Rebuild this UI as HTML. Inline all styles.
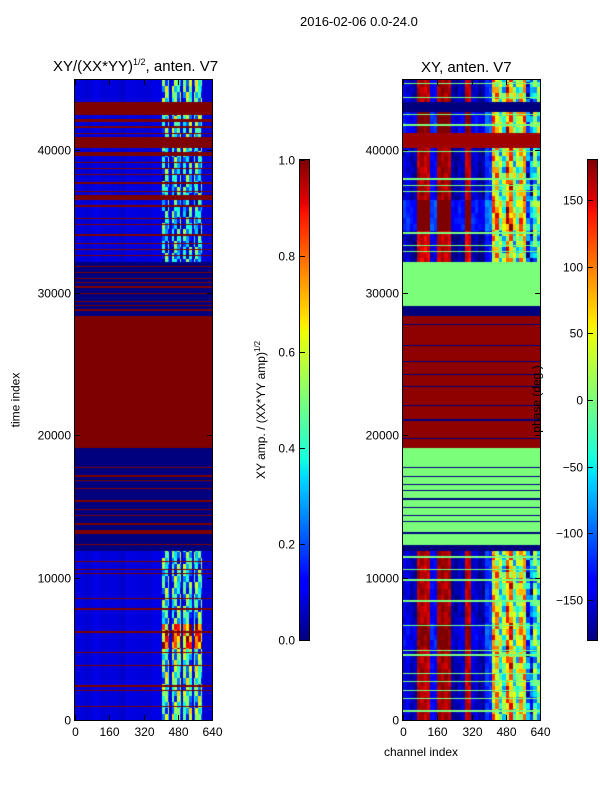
<!DOCTYPE html>
<html><head><meta charset="utf-8">
<style>
body{margin:0;background:#fff;}
#root{position:relative;width:600px;height:800px;background:#fff;font-family:"Liberation Sans",sans-serif;color:#000;overflow:hidden;}
canvas{position:absolute;}
.t{position:absolute;font-size:12px;white-space:nowrap;}
.frame{position:absolute;border:1px solid #000;box-sizing:border-box;}
svg{position:absolute;left:0;top:0;}
</style></head>
<body>
<div id="root">
<div class="t" style="left:300px;top:14px;font-size:13px;">2016-02-06 0.0-24.0</div>
<div class="t" style="left:53px;top:57px;font-size:15px;">XY/(XX*YY)<sup style="font-size:9px">1/2</sup>, anten. V7</div>
<div class="t" style="left:421px;top:59px;font-size:15px;">XY, anten. V7</div>
<canvas id="cL" width="137" height="640" style="left:75px;top:80px"></canvas>
<canvas id="cR" width="137" height="640" style="left:403px;top:80px"></canvas>
<canvas id="cb1" width="9" height="480" style="left:300px;top:160px"></canvas>
<canvas id="cb2" width="9" height="480" style="left:588px;top:160px"></canvas>
<div class="frame" style="left:74px;top:79px;width:139px;height:642px"></div>
<div class="frame" style="left:402px;top:79px;width:139px;height:642px"></div>
<div class="frame" style="left:299px;top:159px;width:11px;height:482px"></div>
<div class="frame" style="left:587px;top:159px;width:11px;height:482px"></div>
<svg id="ov" width="600" height="800"></svg>
<div class="t" style="left:-12px;top:393px;transform:rotate(-90deg);font-size:12px;">time index</div>
<div class="t" style="left:384px;top:745px;">channel index</div>
<div class="t" style="left:180px;top:392px;transform:rotate(-90deg);transform-origin:80px 7px;width:160px;">XY amp. / (XX*YY amp)<sup style="font-size:8px">1/2</sup></div>
<div class="t" style="left:503px;top:392px;transform:rotate(-90deg);">phase (deg.)</div>
</div>
<script>
// ---- data ----
const timeTicks=[0,10000,20000,30000,40000];
const chanTicks=[0,160,320,480,640];
const ampTicks=[0.0,0.2,0.4,0.6,0.8,1.0];
const phaseTicks=[-150,-100,-50,0,50,100,150];
// left panel bands: start,end,base value,speckle amplitude
const leftStart=[43368,42435,42144,41996,40889,40162,39868,39578,36808,36513,32140,28344,19100,13326,13032,11866,6765,5010,0];
const leftEnd  =[44950,43368,42435,42144,41996,40889,40162,39868,39578,36808,36513,32140,28344,19100,13326,13032,11866,6765,5010];
const leftBase =[0.08,1,0.08,1,0.08,1,0.08,1,0.08,1,0.08,0,1,0,1,0,0.08,0.08,0.08];
const leftAmp  =[0.4,0,0.45,0,0.35,0,0.35,0,0.3,0,0.28,0,0,0,0,0,0.35,0.8,0.42];
const leftRedLines=[41617,41179,39137,38700,38262,37679,37096,36075,35200,34762,34033,33449,33012,32574,31845,31407,30970,30678,30386,29949,29365,29073,28781,17697,17114,16822,16238,15363,14780,14343,13759,12300,11134,10550,10259,8509,7780,6176,4717,3842,2384,2092,925];
const speckleCols=[[405,440],[452,494],[505,547],[558,594]];
const speckleMod=[0.1,-0.2,0.25,-0.1,0.05,-0.3,0.2,0,-0.15,0.3,-0.05,0.15,-0.25,0.12];
// right panel bands: start,end,type (S=structured, F=flat), value/offset
const rightStart=[43368,42638,41179,40158,36512,34325,29074,28344,19100,13176,13030,12300,6765,5010,0];
const rightEnd  =[44950,43368,42638,41179,40158,36512,34325,29074,28344,19100,13176,13030,11866,6765,5010];
const rightType =['S','F','S','F','S','S','S','F','F','F','F','F','S','S','S'];
const rightVal  =[0,-180,20,170,0,30,-10,-180,175,0,-180,0,0,15,0];
const rightFlatFix=[[32140,29074,0],[12300,11866,-180]];
const channelPattern=[-150,-165,165,160,-140,170,165,-170,-160,160,-155,-170,-120,60,-20,90,-10,50,-110,-30];
const greenLines=[44680,43660,42490,41760,39870,37970,37530,37100,34180,33300,32860,11430,10550,9820,8360,6610,4860,4570,3260,2680,2090,1510,640,30500];
const navyLines=[27761,26303,25136,24261,23386,22073,21052,19740,17697,17114,16530,16093,15509,14926,14343,13905];
// ---- scales ----
const PX_PER_T=0.01425;
function yOf(t){return 720-t*PX_PER_T;}
function tOfRow(py){return (720-(80+py+0.5))/PX_PER_T;}
function jet(v){v=Math.max(0,Math.min(1,v));
 function pw(x,pts){for(let i=1;i<pts.length;i++){if(x<=pts[i][0]){const a=pts[i-1],b=pts[i];return a[1]+(b[1]-a[1])*(x-a[0])/(b[0]-a[0]);}}return pts[pts.length-1][1];}
 const r=pw(v,[[0,0],[0.35,0],[0.66,1],[0.89,1],[1,0.5]]);
 const g=pw(v,[[0,0],[0.125,0],[0.375,1],[0.64,1],[0.91,0],[1,0]]);
 const b=pw(v,[[0,0.5],[0.11,1],[0.34,1],[0.65,0],[1,0]]);
 return [r*255|0,g*255|0,b*255|0];}
function findBand(t,s,e){for(let i=0;i<s.length;i++){if(t>=s[i]&&t<e[i])return i;}return -1;}
function nearLine(t,arr,w){for(const x of arr){if(Math.abs(t-x)<w)return true;}return false;}
function drawHeat(id,fn){const c=document.getElementById(id),ctx=c.getContext('2d');const img=ctx.createImageData(137,640);
 for(let py=0;py<640;py++){const t=tOfRow(py);for(let px=0;px<137;px++){const ch=(px+0.5)/137*640;const col=jet(fn(t,ch));const k=(py*137+px)*4;img.data[k]=col[0];img.data[k+1]=col[1];img.data[k+2]=col[2];img.data[k+3]=255;}}
 ctx.putImageData(img,0,0);}
// left
drawHeat('cL',function(t,ch){
 if(nearLine(t,leftRedLines,45))return 1;
 const i=findBand(t,leftStart,leftEnd);if(i<0)return 0;
 const base=leftBase[i],amp=leftAmp[i];
 const row=Math.floor(t/420);
 if(amp>0){for(let g=0;g<speckleCols.length;g++){const s=speckleCols[g];if(ch>=s[0]&&ch<=s[1]){const m=speckleMod[(row*3+g*5+Math.floor(ch/14))%speckleMod.length];return amp+m*0.9;}}
  return base+0.03*speckleMod[(Math.floor(ch/40))%speckleMod.length];}
 return base;});
// right
drawHeat('cR',function(t,ch){
 if(nearLine(t,navyLines,40))return 0;
 if(nearLine(t,greenLines,45))return 0.5;
 for(const f of rightFlatFix){if(t>=f[1]&&t<f[0])return (f[2]+180)/360;}
 const i=findBand(t,rightStart,rightEnd);if(i<0)return 0;
 if(rightType[i]==='F')return (rightVal[i]+180)/360;
 const g=Math.min(19,Math.floor(ch/32));const row=Math.floor(t/400);
 let v=channelPattern[g];
 const m=speckleMod[(row*5+g*3+Math.floor(ch/16))%speckleMod.length];
 if(g>=13)v=v+m*250+rightVal[i];else v=v+m*40+rightVal[i];
 if(v>180)v=180;if(v<-180)v=-180;
 return (v+180)/360;});
// colorbars
function drawBar(id){const c=document.getElementById(id),ctx=c.getContext('2d');for(let y=0;y<480;y++){const col=jet(1-(y+0.5)/480);ctx.fillStyle='rgb('+col.join(',')+')';ctx.fillRect(0,y,9,1);}}
drawBar('cb1');drawBar('cb2');
// axes ticks & labels
const ov=document.getElementById('ov');const NS='http://www.w3.org/2000/svg';
function line(x1,y1,x2,y2,name){const l=document.createElementNS(NS,'line');l.setAttribute('x1',x1);l.setAttribute('y1',y1);l.setAttribute('x2',x2);l.setAttribute('y2',y2);l.setAttribute('stroke','#000');l.setAttribute('stroke-width','1');


ov.appendChild(l);}
function text(x,y,s,anchor,name){const e=document.createElementNS(NS,'text');e.setAttribute('x',x);e.setAttribute('y',y);e.setAttribute('text-anchor',anchor);e.setAttribute('font-size','12');e.setAttribute('font-family','Liberation Sans, sans-serif');e.textContent=s;


ov.appendChild(e);}
[[75,212],[403,540]].forEach(function(ax,pi){
 timeTicks.forEach(function(t){const y=Math.round(yOf(t))+0.5;line(ax[0],y,ax[0]+5,y,'y-tick');line(ax[1]-5,y,ax[1],y,'y-tick');text(ax[0]-4,y+4,String(t),'end','y-tick-label');});
 chanTicks.forEach(function(c){const x=Math.round(ax[0]+c/640*137)+0.5;line(x,720,x,715,'x-tick');line(x,80,x,85,'x-tick');text(x,736,String(c),'middle','x-tick-label');});
});
ampTicks.forEach(function(v){const y=Math.round(640-v*480)+0.5;line(300,y,305,y,'colorbar1-tick');text(295,y+4,v.toFixed(1),'end','colorbar1-tick-label');});
phaseTicks.forEach(function(v){const y=Math.round(640-(v+180)/360*480)+0.5;line(588,y,593,y,'colorbar2-tick');text(583,y+4,String(v).replace('-','\u2212'),'end','colorbar2-tick-label');});
</script>
</body></html>
